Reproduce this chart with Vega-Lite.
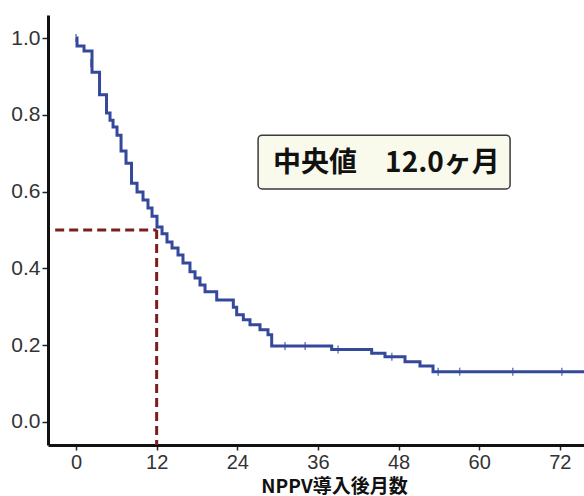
{
  "$schema": "https://vega.github.io/schema/vega-lite/v6.json",
  "width": 536,
  "height": 430,
  "autosize": {"type": "none"},
  "padding": {"left": 48, "top": 15, "right": 0, "bottom": 51},
  "background": "white",
  "config": {
    "view": {"stroke": null},
    "axis": {
      "grid": false,
      "domainColor": "#111",
      "domainWidth": 3,
      "tickColor": "#222",
      "tickWidth": 1.5,
      "tickSize": 6
    }
  },
  "encoding": {
    "x": {
      "field": "x",
      "type": "quantitative",
      "scale": {"domain": [-4.17, 75.6], "nice": false, "zero": false},
      "axis": {
        "values": [0, 12, 24, 36, 48, 60, 72],
        "tickSize": 5,
        "labelFont": "Liberation Sans",
        "labelFontSize": 20,
        "labelColor": "#333",
        "labelPadding": 2,
        "title": "NPPV導入後月数",
        "titleFont": "Noto Sans CJK JP",
        "titleFontWeight": "bold",
        "titleFontSize": 19,
        "titleColor": "#111",
        "titleAnchor": "start",
        "titleAlign": "center",
        "titleBaseline": "bottom",
        "titleX": 286,
        "titleY": 51
      }
    },
    "y": {
      "field": "y",
      "type": "quantitative",
      "scale": {"domain": [-0.06, 1.06], "nice": false, "zero": false},
      "axis": {
        "values": [0, 0.2, 0.4, 0.6, 0.8, 1.0],
        "format": ".1f",
        "labelFont": "Liberation Sans",
        "labelFontSize": 21,
        "labelColor": "#333",
        "labelPadding": 2,
        "title": null
      }
    }
  },
  "layer": [
    {
      "data": {"values": [{"x": 27.1, "y": 0.747, "x2": 64.6, "y2": 0.607}]},
      "mark": {"type": "rect", "fill": "#fafaec", "stroke": "#3a3a3a", "strokeWidth": 1.5, "cornerRadius": 4},
      "encoding": {"x2": {"field": "x2"}, "y2": {"field": "y2"}}
    },
    {
      "data": {"values": [{"x": 46.2, "y": 0.672, "label": "中央値　12.0ヶ月"}]},
      "mark": {"type": "text", "font": "Noto Sans CJK JP", "fontWeight": "bold", "fontSize": 28, "color": "#111", "align": "center", "baseline": "middle"},
      "encoding": {"text": {"field": "label"}}
    },
    {
      "data": {"values": [
        {"x": -3.1, "y": 0.5, "x2": 12, "y2": 0.5},
        {"x": 12, "y": 0.5, "x2": 12, "y2": -0.06}
      ]},
      "mark": {"type": "rule", "color": "#7a1e1e", "strokeWidth": 3, "strokeDash": [9, 5]},
      "encoding": {"x2": {"field": "x2"}, "y2": {"field": "y2"}}
    },
    {
      "data": {"values": [
        {"x": 0, "y": 1.0},
        {"x": 0.15, "y": 0.979},
        {"x": 1.19, "y": 0.966},
        {"x": 2.38, "y": 0.911},
        {"x": 3.5, "y": 0.852},
        {"x": 4.54, "y": 0.805},
        {"x": 5.06, "y": 0.786},
        {"x": 5.51, "y": 0.768},
        {"x": 6.1, "y": 0.747},
        {"x": 6.7, "y": 0.706},
        {"x": 7.44, "y": 0.674},
        {"x": 8.26, "y": 0.622},
        {"x": 9.08, "y": 0.599},
        {"x": 9.97, "y": 0.578},
        {"x": 10.71, "y": 0.557},
        {"x": 11.31, "y": 0.536},
        {"x": 12.05, "y": 0.508},
        {"x": 12.8, "y": 0.49},
        {"x": 13.54, "y": 0.469},
        {"x": 14.29, "y": 0.453},
        {"x": 15.18, "y": 0.435},
        {"x": 15.92, "y": 0.414},
        {"x": 16.96, "y": 0.391},
        {"x": 17.71, "y": 0.375},
        {"x": 18.45, "y": 0.357},
        {"x": 19.2, "y": 0.339},
        {"x": 20.94, "y": 0.318},
        {"x": 23.41, "y": 0.299},
        {"x": 23.91, "y": 0.279},
        {"x": 24.9, "y": 0.266},
        {"x": 25.89, "y": 0.253},
        {"x": 27.38, "y": 0.24},
        {"x": 28.57, "y": 0.227},
        {"x": 29.12, "y": 0.198},
        {"x": 38.05, "y": 0.189},
        {"x": 44.0, "y": 0.179},
        {"x": 45.98, "y": 0.17},
        {"x": 48.96, "y": 0.157},
        {"x": 51.19, "y": 0.146},
        {"x": 53.13, "y": 0.131},
        {"x": 75.6, "y": 0.131}
      ]},
      "mark": {"type": "line", "interpolate": "step-after", "color": "#34499c", "strokeWidth": 3}
    },
    {
      "data": {"values": [
        {"x": 0, "y": 1.0},
        {"x": 2.2, "y": 0.935},
        {"x": 31.1, "y": 0.198},
        {"x": 34.1, "y": 0.198},
        {"x": 39.0, "y": 0.189},
        {"x": 47.0, "y": 0.17},
        {"x": 53.9, "y": 0.131},
        {"x": 57.1, "y": 0.131},
        {"x": 65.0, "y": 0.131},
        {"x": 72.3, "y": 0.131}
      ]},
      "mark": {"type": "tick", "orient": "vertical", "color": "#34499c", "size": 8, "thickness": 1.5}
    }
  ]
}
